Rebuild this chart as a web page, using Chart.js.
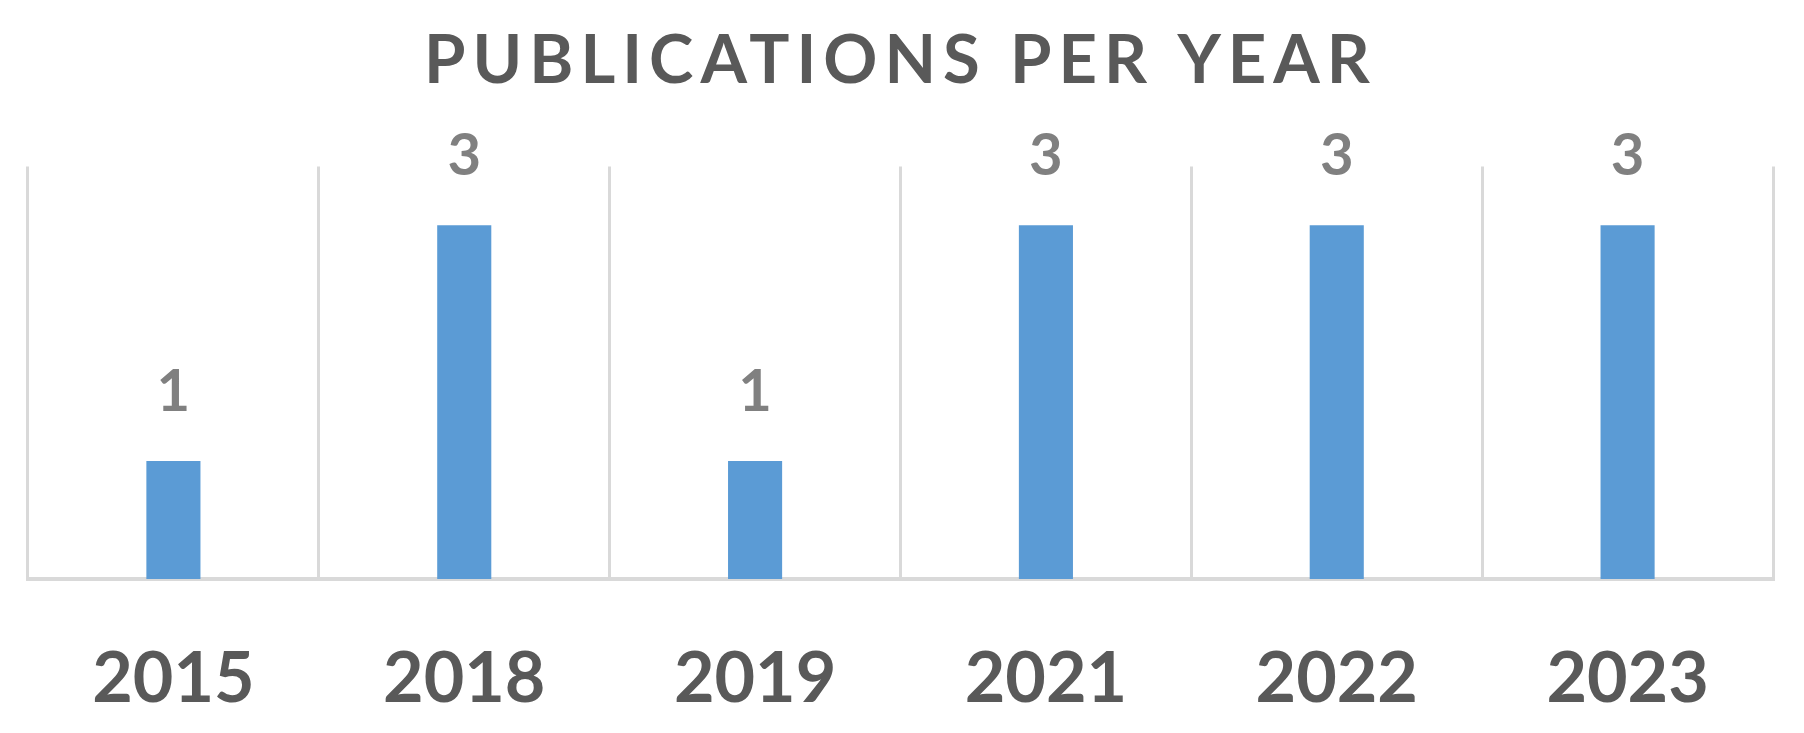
<!DOCTYPE html>
<html>
<head>
<meta charset="utf-8">
<title>Publications per year</title>
<script src="https://cdn.jsdelivr.net/npm/chart.js@4/dist/chart.umd.min.js"></script>
<style>
  html, body { margin: 0; padding: 0; background: #ffffff; }
  #wrap { position: relative; width: 1804px; height: 733px; }
</style>
</head>
<body>
<div id="wrap"><canvas id="pubs-chart"></canvas></div>
<script>
var years = ["2015", "2018", "2019", "2021", "2022", "2023"];
var publications = [1, 3, 1, 3, 3, 3];

var FONT = "Lato, 'Open Sans', sans-serif";

// spaced-out title like the office chart style, reset before bars/labels
var titleSpacing = {
  id: "titleSpacing",
  beforeDraw: function (chart) { chart.ctx.letterSpacing = "7px"; },
  beforeDatasetsDraw: function (chart) { chart.ctx.letterSpacing = "0px"; },
};

// value above each bar
var barValues = {
  id: "barValues",
  afterDatasetsDraw: function (chart) {
    var ctx = chart.ctx;
    ctx.save();
    ctx.letterSpacing = "0px";
    ctx.font = "bold 58px " + FONT;
    ctx.fillStyle = "#808080";
    ctx.textAlign = "center";
    ctx.textBaseline = "alphabetic";
    chart.getDatasetMeta(0).data.forEach(function (bar, i) {
      ctx.fillText(String(publications[i]), bar.x, bar.y - 50);
    });
    ctx.restore();
  },
};

new Chart(document.getElementById("pubs-chart"), {
  type: "bar",
  data: {
    labels: years,
    datasets: [
      {
        label: "Publications",
        data: publications,
        backgroundColor: "#5b9bd5",
        borderWidth: 0,
        categoryPercentage: 1,
        barPercentage: 0.186,
      },
    ],
  },
  options: {
    responsive: true,
    maintainAspectRatio: false,
    animation: false,
    layout: { padding: { top: 0, left: 28, right: 31, bottom: 0 } },
    plugins: {
      legend: { display: false },
      tooltip: { enabled: false },
      title: {
        display: true,
        text: "PUBLICATIONS PER YEAR",
        color: "#595959",
        font: { family: FONT, size: 67, weight: "bold", lineHeight: 1.2 },
        padding: { top: 21, bottom: 65 },
      },
    },
    scales: {
      x: {
        afterFit: function (scale) { scale.height = 154; },
        grid: { display: true, offset: true, drawTicks: false, color: "#d9d9d9", lineWidth: 3 },
        border: { display: true, color: "#d9d9d9", width: 4 },
        ticks: {
          z: 1,
          padding: 58,
          color: "#595959",
          font: { family: FONT, size: 70, weight: "bold", lineHeight: 1.2 },
        },
      },
      y: {
        display: false,
        min: 0,
        max: 3.5,
      },
    },
  },
  plugins: [titleSpacing, barValues],
});
</script>
</body>
</html>
